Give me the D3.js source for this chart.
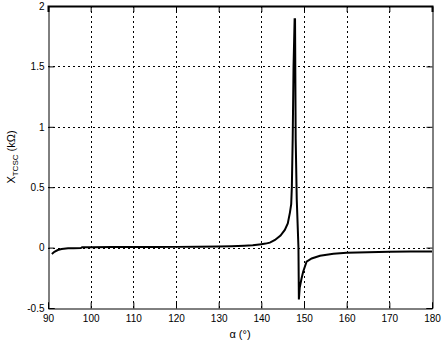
<!DOCTYPE html>
<html>
<head>
    <title>TCSC reactance vs firing angle</title>
    <script src="https://cdnjs.cloudflare.com/ajax/libs/d3/7.8.5/d3.min.js"></script>
    <style>
        body { margin: 0; background: #fff; }
        svg { display: block; font-family: "Liberation Sans", Arial, sans-serif; }
        .grid line { stroke: #000; stroke-width: 1; stroke-dasharray: 2,3; }
        .curve { fill: none; stroke: #000; stroke-width: 2; }
    </style>
</head>
<body>
    <div id="chart"></div>
    <script>
        // firing angle (deg) and reactance (kOhm)
        const alphaDeg = [90.9, 91.5, 92.3, 93.2, 94.7, 96, 97.7, 98, 100, 105, 110, 115, 120, 125, 130,
            133, 136, 138, 140, 141, 142, 143.2, 144.5, 145.5, 146.2, 146.7, 147.0, 147.15, 147.35, 147.55,
            147.8, 147.9, 148.05, 148.3, 148.7, 148.8, 149.0, 149.4, 149.8, 150.6, 151.8, 153.75, 156.9,
            160, 165, 170, 175, 180];
        const xTcsc = [-0.053, -0.035, -0.02, -0.012, -0.006, -0.005, -0.004, 0.003, 0.003, 0.004, 0.004, 0.005, 0.006, 0.007, 0.009,
            0.011, 0.015, 0.019, 0.028, 0.033, 0.041, 0.063, 0.1, 0.146, 0.2, 0.29, 0.36, 0.5, 0.9, 1.5,
            1.89, 1.89, 0.9, 0.4, 0.0, -0.43, -0.33, -0.26, -0.2, -0.116, -0.09, -0.068, -0.05,
            -0.043, -0.038, -0.035, -0.033, -0.032];

        const xTicks = [90, 100, 110, 120, 130, 140, 150, 160, 170, 180];
        const yTicks = [-0.5, 0, 0.5, 1, 1.5, 2];

        const W = 443, H = 342;
        const pl = 48, pr = 432, pt = 6, pb = 308;

        const svg = d3.select('#chart').append('svg')
            .attr('width', W)
            .attr('height', H);

        const x = d3.scaleLinear().domain([90, 180]).range([pl, pr]);
        const y = d3.scaleLinear().domain([-0.5, 2]).range([pb, pt]);

        // grid lines (skip the ones on the box)
        const grid = svg.append('g').attr('class', 'grid');
        grid.selectAll('.vg')
            .data(xTicks.slice(1, -1))
            .enter().append('line')
            .attr('x1', d => Math.round(x(d)) + 0.5).attr('x2', d => Math.round(x(d)) + 0.5)
            .attr('y1', pt).attr('y2', pb);
        grid.selectAll('.hg')
            .data(yTicks.slice(1, -1))
            .enter().append('line')
            .attr('x1', pl).attr('x2', pr)
            .attr('y1', d => Math.round(y(d)) + 0.5).attr('y2', d => Math.round(y(d)) + 0.5);

        // axes, ticks pointing inwards
        const tl = 6;
        const font = 'Liberation Sans, Arial, sans-serif';
        svg.append('g')
            .attr('transform', `translate(0,${pb + 0.5})`)
            .call(d3.axisBottom(x).tickValues(xTicks).tickSize(-tl).tickPadding(4).tickFormat(d3.format('d')))
            .call(g => g.select('.domain').attr('stroke', '#000'))
            .call(g => g.selectAll('text').attr('font-size', 10).attr('font-family', font).attr('dy', '0.95em'));

        svg.append('g')
            .attr('transform', `translate(${pl + 0.5},0)`)
            .call(d3.axisLeft(y).tickValues(yTicks).tickSize(-tl).tickPadding(4).tickFormat(d => d))
            .call(g => g.select('.domain').attr('stroke', '#000'))
            .call(g => g.selectAll('text').attr('font-size', 10).attr('font-family', font));

        svg.append('g')
            .attr('transform', `translate(0,${pt})`)
            .call(d3.axisTop(x).tickValues(xTicks).tickSize(-tl).tickFormat(''))
            .call(g => g.select('.domain').attr('stroke', '#000').attr('stroke-width', 2));

        svg.append('g')
            .attr('transform', `translate(${pr + 0.5},0)`)
            .call(d3.axisRight(y).tickValues(yTicks).tickSize(-tl).tickFormat(''))
            .call(g => g.select('.domain').attr('stroke', '#000'));

        // curve
        const line = d3.line()
            .x((d, i) => x(alphaDeg[i]))
            .y(d => y(d));

        svg.append('path')
            .datum(xTcsc)
            .attr('class', 'curve')
            .attr('d', line);

        // axis labels
        svg.append('text')
            .attr('x', (pl + pr) / 2)
            .attr('y', 338)
            .attr('text-anchor', 'middle')
            .attr('font-size', 11)
            .text('α (°)');

        const yl = svg.append('text')
            .attr('transform', `translate(15,${(pt + pb) / 2}) rotate(-90)`)
            .attr('text-anchor', 'middle')
            .attr('font-size', 11);
        yl.append('tspan').text('X');
        yl.append('tspan').attr('font-size', 8).attr('dy', 3).text('TCSC');
        yl.append('tspan').attr('dy', -3).text(' (kΩ)');
    </script>
</body>
</html>
